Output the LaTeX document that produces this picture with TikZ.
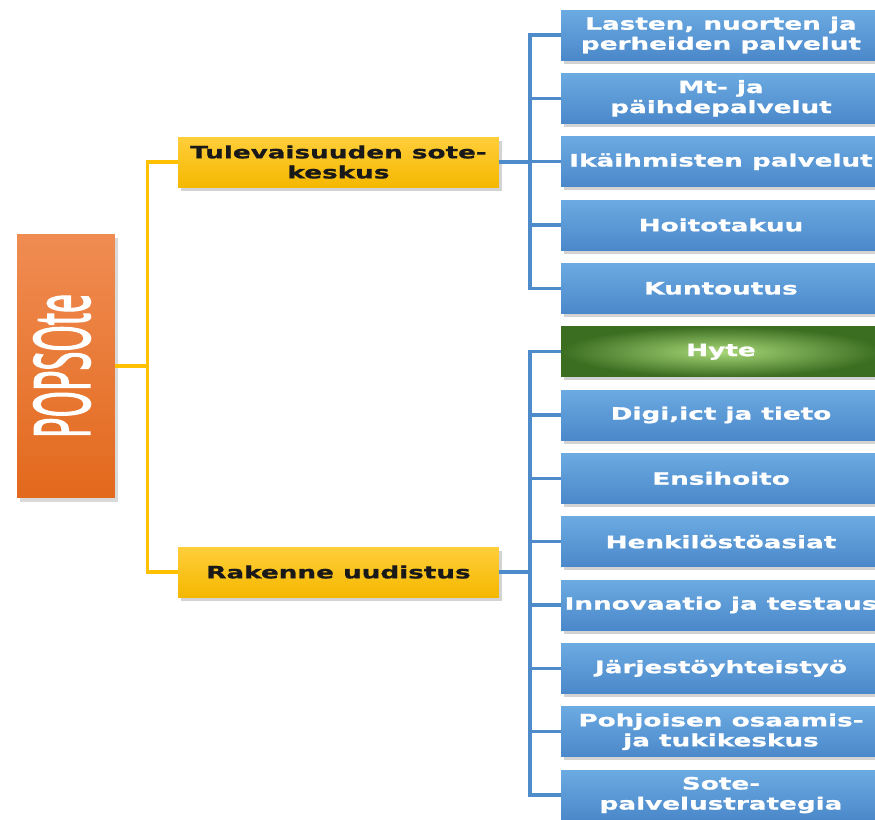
\documentclass[tikz,border=0pt]{standalone}
\usepackage{fontspec}
\usepackage{graphicx}
\usepackage{xcolor}
\usepackage{tikz}
\usetikzlibrary{positioning,shadows}

\newfontfamily\boxfont[FakeStretch=1.54,FakeBold=1]{DejaVu Sans Bold}
\newfontfamily\rootfont[FakeBold=3]{Open Sans}

\definecolor{rootTop}{HTML}{F08C52}
\definecolor{rootBot}{HTML}{E2691D}
\definecolor{yelTop}{HTML}{FFCE3A}
\definecolor{yelBot}{HTML}{F5B800}
\definecolor{yelLine}{HTML}{FFC000}
\definecolor{bluTop}{HTML}{6CAAE2}
\definecolor{bluBot}{HTML}{4A88CA}
\definecolor{bluLine}{HTML}{4E8BCB}
\definecolor{grnIn}{HTML}{A8D878}
\definecolor{grnOut}{HTML}{3C6E22}

\begin{document}
\begin{tikzpicture}[
    x=0.02cm, y=-0.02cm,
    node distance=0.267cm,
    boxtext/.style={font=\boxfont\fontsize{9.7pt}{11.4pt}\selectfont, align=center, inner sep=0pt, outer sep=0pt},
    rootbox/.style={rectangle, minimum width=1.96cm, minimum height=5.28cm, top color=rootTop, bottom color=rootBot,
        drop shadow={shadow xshift=1.5pt, shadow yshift=-2pt, opacity=0.3}},
    topic/.style={boxtext, rectangle, minimum width=6.42cm, minimum height=1cm, top color=yelTop, bottom color=yelBot,
        text=black!90, drop shadow={shadow xshift=1.5pt, shadow yshift=-2pt, opacity=0.35}},
    item/.style={boxtext, rectangle, minimum width=6.4cm, minimum height=1cm, top color=bluTop, bottom color=bluBot,
        text=white, drop shadow={shadow xshift=1.5pt, shadow yshift=-2pt, opacity=0.35}},
    greenitem/.style={item, shading=radial, inner color=grnIn, outer color=grnOut},
    yline/.style={draw=yelLine, line width=1.8pt},
    bline/.style={draw=bluLine, line width=1.8pt}
]
    \useasboundingbox (0,0) rectangle (875,819);

    % Nodes
    \node[rootbox] (root) at (66,366) {};
    \node[text=white, rotate=90] (rootlabel) at (62,366)
        {\scalebox{1}[2.25]{\rootfont\fontsize{19.4pt}{20pt}\selectfont POPSOte}};

    \node[topic] (tul) at (338.5,162) {Tulevaisuuden sote-\\keskus};
    \node[topic] (rak) at (338.5,572) {Rakenne uudistus};

    \node[item] (b1) at (721,35) {Lasten, nuorten ja\\perheiden palvelut};
    \node[item, below=of b1] (b2) {Mt- ja\\päihdepalvelut};
    \node[item, below=of b2] (b3) {Ikäihmisten palvelut};
    \node[item, below=of b3] (b4) {Hoitotakuu};
    \node[item, below=of b4] (b5) {Kuntoutus};
    \node[greenitem, below=of b5] (b6) {Hyte};
    \node[item, below=of b6] (b7) {Digi,ict ja tieto};
    \node[item, below=of b7] (b8) {Ensihoito};
    \node[item, below=of b8] (b9) {Henkilöstöasiat};
    \node[item, below=of b9] (b10) {Innovaatio ja testaus};
    \node[item, below=of b10] (b11) {Järjestöyhteistyö};
    \node[item, below=of b11] (b12) {Pohjoisen osaamis-\\ja tukikeskus};
    \node[item, below=of b12] (b13) {Sote-\\palvelustrategia};

    % Connectors
    \draw[yline] (root.east) -- ++(32,0) |- (tul.west);
    \draw[yline] (root.east) -- ++(32,0) |- (rak.west);
    \foreach \i in {1,...,5}
        \draw[bline] (tul.east) -- ++(31,0) |- (b\i.west);
    \foreach \i in {6,...,13}
        \draw[bline] (rak.east) -- ++(31,0) |- (b\i.west);
\end{tikzpicture}
\end{document}
